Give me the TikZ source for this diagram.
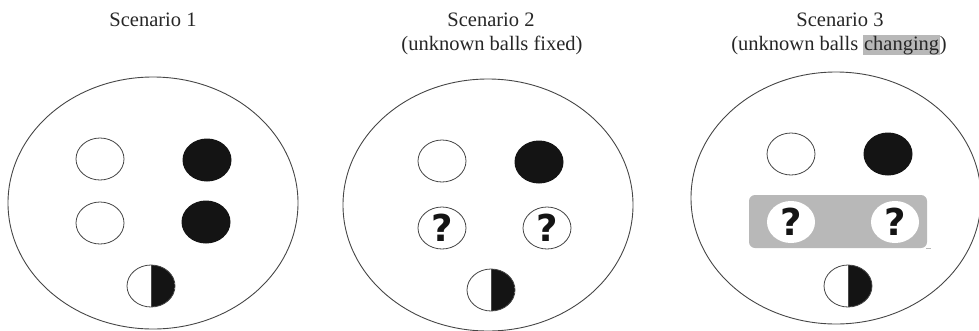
\documentclass[tikz,border=0pt]{standalone}
\usepackage{fontspec}
\setmainfont{Liberation Serif}
\newfontfamily\qfont{DejaVu Sans}
\usetikzlibrary{shapes.geometric}
\definecolor{hl}{RGB}{184,184,184}
\definecolor{rim}{RGB}{70,70,70}
\definecolor{ink}{RGB}{20,20,20}
\tikzset{
  bowl/.style={ellipse,draw=rim,line width=0.9pt,minimum width=290pt,minimum height=252pt,inner sep=0pt},
  wball/.style={ellipse,draw=rim,line width=0.8pt,fill=white,minimum width=48pt,minimum height=42pt,inner sep=0pt},
  bball/.style={ellipse,fill=ink,minimum width=49pt,minimum height=43pt,inner sep=0pt},
  qball/.style={wball,font=\qfont\bfseries\fontsize{37}{37}\selectfont,text=ink},
  qwhite/.style={ellipse,fill=white,minimum width=48pt,minimum height=42pt,inner sep=0pt,font=\qfont\bfseries\fontsize{37}{37}\selectfont,text=ink},
  hball/.style={wball,path picture={
     \fill[ink] (path picture bounding box.north) rectangle (path picture bounding box.south east);
     \draw[rim,line width=0.8pt] (path picture bounding box.north) -- (path picture bounding box.south);}},
  ttl/.style={anchor=base,font=\fontsize{20.5}{24}\selectfont,text=black!85,inner sep=0pt},
  panel/.style={rounded corners=6pt,fill=hl,draw=none}
}
\begin{document}
\begin{tikzpicture}[x=1pt,y=-1pt]
\useasboundingbox (0,0) rectangle (979,330);
% titles
\node[ttl] (t1) at (153,26) {Scenario 1};
\node[ttl] (t2a) at (491,26) {Scenario 2};
\node[ttl] (t2b) at (492,50) {(unknown balls fixed)};
\node[ttl] (t3a) at (840,26) {Scenario 3};
\node[ttl] (t3b) at (839,50) {(unknown balls {\setlength{\fboxsep}{0.6pt}\colorbox{hl}{changing}})};
% scenario 1
\node[bowl] (e1) at (153,203) {};
\node[wball] (w11) at (100,159) {};
\node[bball] (b11) at (207,160) {};
\node[wball] (w12) at (100,223) {};
\node[bball] (b12) at (206,222) {};
\node[hball] (h1) at (151,286) {};
% scenario 2
\node[bowl] (e2) at (488,205) {};
\node[wball] (w21) at (442,161) {};
\node[bball] (b21) at (539,162) {};
\node[qball] (q21) at (442,228) {?};
\node[qball] (q22) at (547,228) {?};
\node[hball] (h2) at (491,290) {};
% scenario 3
\node[bowl] (e3) at (836,198) {};
\node[wball] (w31) at (791,154) {};
\node[bball] (b31) at (888,154) {};
\path[panel] (749,195) rectangle (927,248);
\coordinate (pa) at (926,248);
\coordinate (pb) at (931,248);
\draw[hl,line width=0.7pt] (pa) -- (pb);
\node[qwhite] (q31) at (791,222) {?};
\node[qwhite] (q32) at (895,222) {?};
\node[hball] (h3) at (848,286) {};
\end{tikzpicture}
\end{document}
